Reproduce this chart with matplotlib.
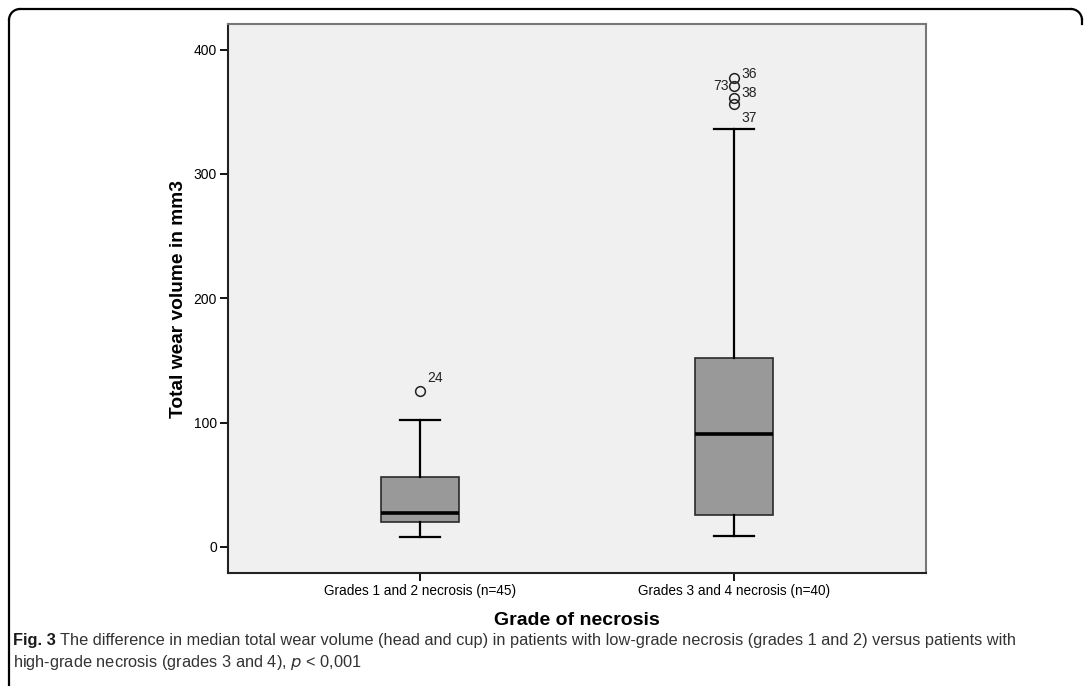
import matplotlib
matplotlib.use('Agg')
import matplotlib.pyplot as plt
from matplotlib.patches import Arc
from matplotlib.lines import Line2D
from matplotlib.transforms import IdentityTransform

# Box summary values (mm3)
groups = ['Grades 1 and 2 necrosis (n=45)', 'Grades 3 and 4 necrosis (n=40)']
whisker_low = [8, 9]
q1 = [20, 26]
medians = [27, 91]
q3 = [56, 152]
whisker_high = [102, 336]
outliers = [[125], [377, 371, 361, 356]]
outlier_labels = [['24'], ['36', '73', '38', '37']]

FONT = ['Liberation Sans', 'DejaVu Sans']
CAP_FONT = ['Liberation Sans Narrow', 'Liberation Sans', 'DejaVu Sans']

W, H = 1084, 686
fig = plt.figure(figsize=(W / 100, H / 100), dpi=100)
fig.patch.set_facecolor('white')

# Rounded frame around the figure, drawn in pixels; it runs off the right and bottom
r = 11
left, right, top = 9, 1082, H - 9
px = IdentityTransform()
frame_style = dict(color='black', linewidth=1.6, transform=px)
fig.add_artist(Line2D([left, left], [0, top - r], **frame_style))
fig.add_artist(Line2D([left + r, right - r], [top, top], **frame_style))
fig.add_artist(Line2D([right, right], [top - r, top - r - 4], **frame_style))
fig.add_artist(Arc((left + r, top - r), 2 * r, 2 * r, theta1=90, theta2=180,
                   **frame_style))
fig.add_artist(Arc((right - r, top - r), 2 * r, 2 * r, theta1=0, theta2=90,
                   **frame_style))

ax = fig.add_axes([228 / W, 113 / H, 698 / W, 549 / H])
ax.set_facecolor('#f0f0f0')

stats = []
for i, g in enumerate(groups):
    stats.append({'label': g, 'whislo': whisker_low[i], 'q1': q1[i],
                  'med': medians[i], 'q3': q3[i], 'whishi': whisker_high[i],
                  'fliers': outliers[i]})

ax.bxp(stats, positions=[1, 2], widths=0.25, patch_artist=True,
       boxprops=dict(facecolor='#999999', edgecolor='#2a2a2a', linewidth=1.2),
       medianprops=dict(color='black', linewidth=2.6),
       whiskerprops=dict(color='black', linewidth=1.6),
       capprops=dict(color='black', linewidth=1.6),
       capwidths=0.128,
       flierprops=dict(marker='o', markersize=7, markerfacecolor='none',
                       markeredgecolor='#222222', markeredgewidth=1.1))

# outlier case numbers (offsets in points)
offsets = {'24': (5, 10, 'left'), '36': (5, 3, 'left'), '73': (-4, 0, 'right'),
           '38': (5, 4, 'left'), '37': (5, -9.5, 'left')}
for i in range(len(groups)):
    for val, lab in zip(outliers[i], outlier_labels[i]):
        dx, dy, ha = offsets[lab]
        ax.annotate(lab, (i + 1, val), xytext=(dx, dy), textcoords='offset points',
                    ha=ha, va='center', fontsize=10, family=FONT, color='#222222')

ax.set_xlim(0.389, 2.611)
ax.set_ylim(-21, 420.6)
ax.set_yticks([0, 100, 200, 300, 400])
ax.set_xticks([1, 2])
ax.set_xticklabels(groups, family=FONT, fontsize=9.8)
for t in ax.get_yticklabels():
    t.set_family(FONT)
    t.set_fontsize(10)
ax.tick_params(axis='both', direction='out', length=6, width=1.3, color='black',
               pad=2)

for s in ['left', 'bottom']:
    ax.spines[s].set_color('#222222')
    ax.spines[s].set_linewidth(1.5)
for s in ['top', 'right']:
    ax.spines[s].set_color('#777777')
    ax.spines[s].set_linewidth(1.5)

ax.set_ylabel('Total wear volume in mm3', family=FONT, fontsize=13.8,
              fontweight='bold', labelpad=5)
ax.set_xlabel('Grade of necrosis', family=CAP_FONT, fontsize=14,
              fontweight='bold', labelpad=10)

# caption
fig.canvas.draw()
renderer = fig.canvas.get_renderer()
cap_size = 11.8
lead = fig.text(13 / W, 1 - 641 / H, 'Fig. 3', family=CAP_FONT, fontsize=cap_size,
                fontweight='bold', color='#1a1a1a', va='center')
bb = lead.get_window_extent(renderer)
fig.text((bb.x1 + 4) / W, 1 - 641 / H,
         'The difference in median total wear volume (head and cup) in patients '
         'with low-grade necrosis (grades 1 and 2) versus patients with',
         family=CAP_FONT, fontsize=cap_size, color='#333333', va='center')
fig.text(13 / W, 1 - 663 / H,
         'high-grade necrosis (grades 3 and 4), $p$ < 0,001',
         family=CAP_FONT, fontsize=cap_size, color='#333333', va='center')

fig.savefig('out.png', dpi=100)
